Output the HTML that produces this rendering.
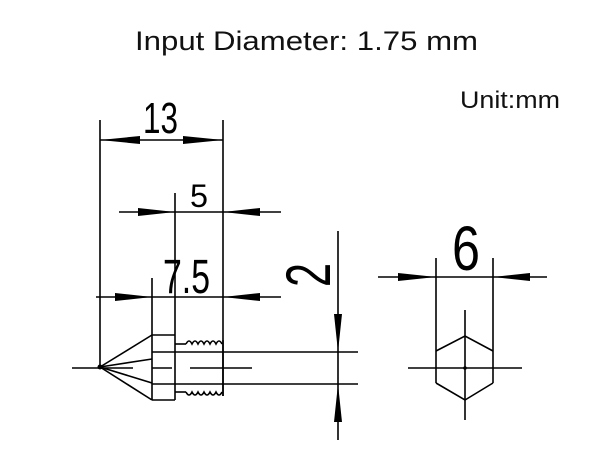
<!DOCTYPE html>
<html><head><meta charset="utf-8"><style>
html,body{margin:0;padding:0;background:#fff;}
svg{display:block;}
</style></head><body>
<svg width="613" height="451" viewBox="0 0 613 451" xmlns="http://www.w3.org/2000/svg">
<rect width="613" height="451" fill="#fff"/>
<text x="135" y="50" font-family="Liberation Sans, sans-serif" font-size="27" textLength="343" lengthAdjust="spacingAndGlyphs" fill="#111">Input Diameter: 1.75 mm</text>
<text x="460" y="108" font-family="Liberation Sans, sans-serif" font-size="24" textLength="100" lengthAdjust="spacingAndGlyphs" fill="#111">Unit:mm</text>
<g stroke="#000" stroke-width="1.6" fill="none">
<!-- 13 -->
<line x1="100" y1="120" x2="100" y2="368"/>
<line x1="223" y1="120" x2="223" y2="396"/>
<line x1="100" y1="140" x2="223" y2="140"/>
<!-- 5 -->
<line x1="119" y1="212" x2="281" y2="212"/>
<line x1="175" y1="193" x2="175" y2="400"/>
<!-- 7.5 -->
<line x1="96" y1="297" x2="281" y2="297"/>
<line x1="152" y1="278" x2="152" y2="400"/>
<!-- body -->
<line x1="100" y1="367" x2="152" y2="335"/>
<line x1="100" y1="367" x2="152" y2="400"/>
<line x1="100" y1="367" x2="152" y2="359"/>
<line x1="100" y1="367" x2="152" y2="383"/>
<line x1="152" y1="335" x2="175" y2="335"/>
<line x1="152" y1="400" x2="175" y2="400"/>
<line x1="152" y1="352" x2="358" y2="352"/>
<line x1="152" y1="384" x2="358" y2="384"/>
<line x1="72" y1="368" x2="133" y2="368"/>
<line x1="152" y1="368" x2="172" y2="368"/>
<line x1="190" y1="368" x2="252" y2="368"/>
<!-- thread -->
<polyline points="175,344 186,344"/>
<path d="M186,344 q3,-6 6,0 q3,-6 6,0 q3,-6 6,0 q3,-6 6,0 q3,-6 6,0 q3,-6 6,0"/>
<polyline points="175,392 186,392"/>
<path d="M186,392 q3,6 6,0 q3,6 6,0 q3,6 6,0 q3,6 6,0 q3,6 6,0 q3,6 6,0"/>
<line x1="223" y1="340" x2="223" y2="396"/>
<!-- 2 -->
<line x1="338" y1="231" x2="338" y2="440"/>
<!-- 6 -->
<line x1="378" y1="277" x2="547" y2="277"/>
<line x1="436" y1="258" x2="436" y2="383"/>
<line x1="493" y1="258" x2="493" y2="383"/>
<polyline points="436,351 465,336 493,351"/>
<polyline points="436,383 465,400 493,383"/>
<line x1="465" y1="310" x2="465" y2="420"/>
<line x1="408" y1="368" x2="522" y2="368"/>
</g>
<g fill="#000">
<polygon points="100,140 140,136 140,144"/>
<polygon points="223,140 183,136 183,144"/>
<polygon points="175,212 138,208 138,216"/>
<polygon points="223,212 260,208 260,216"/>
<polygon points="152,297 115,293 115,301"/>
<polygon points="223,297 260,293 260,301"/>
<polygon points="338,352 334,314 342,314"/>
<polygon points="338,384 334,422 342,422"/>
<polygon points="436,277 398,273 398,281"/>
<polygon points="493,277 530,273 530,281"/>
<circle cx="100" cy="367" r="2.5"/>
<circle cx="465" cy="368" r="1.8"/>
</g>
<g font-family="Liberation Sans, sans-serif" fill="#000">
<text x="143" y="133" font-size="44" textLength="35" lengthAdjust="spacingAndGlyphs">13</text>
<text x="190" y="207" font-size="32" textLength="18" lengthAdjust="spacingAndGlyphs">5</text>
<text x="163" y="293" font-size="48" textLength="47" lengthAdjust="spacingAndGlyphs">7.5</text>
<text x="452" y="270" font-size="63" textLength="28" lengthAdjust="spacingAndGlyphs">6</text>
<text transform="translate(330,287) rotate(-90)" x="0" y="0" font-size="63" textLength="24" lengthAdjust="spacingAndGlyphs">2</text>
</g>
</svg>
</body></html>
